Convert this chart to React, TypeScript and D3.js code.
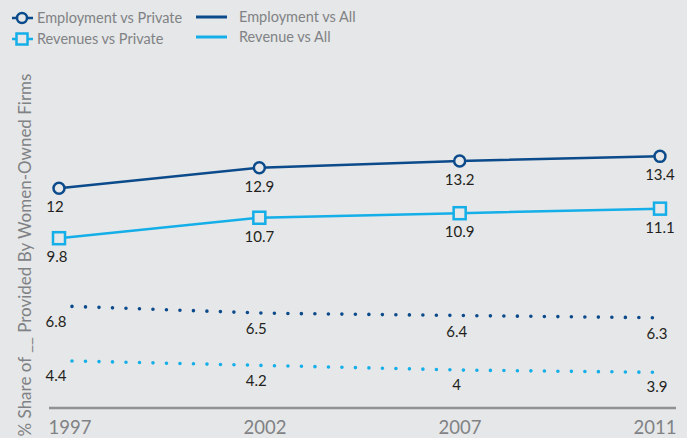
import React from "react";
import * as d3 from "d3";

const years = ["1997", "2002", "2007", "2011"];
const employmentVsPrivate = [12, 12.9, 13.2, 13.4];
const revenuesVsPrivate = [9.8, 10.7, 10.9, 11.1];
const employmentVsAll = [6.8, 6.5, 6.4, 6.3];
const revenueVsAll = [4.4, 4.2, 4, 3.9];
const labelEmpPriv = ["12", "12.9", "13.2", "13.4"];
const labelRevPriv = ["9.8", "10.7", "10.9", "11.1"];
const labelEmpAll = ["6.8", "6.5", "6.4", "6.3"];
const labelRevAll = ["4.4", "4.2", "4", "3.9"];
const legendPrivate = ["Employment vs Private", "Revenues vs Private"];
const legendAll = ["Employment vs All", "Revenue vs All"];
const yTitle = "% Share of __ Provided By Women-Owned Firms";

const W = 687;
const H = 438;
const DARK = "#0b4a8b";
const LIGHT = "#14aee8";
const BG = "#e6e7e8";
const GRAY = "#808285";
const INK = "#231f20";
const FONT = "Lato, 'Open Sans', sans-serif";

export default function App() {
  const xMain = d3.scalePoint<string>().domain(years).range([59, 660]);
  const xDots = d3.scalePoint<string>().domain(years).range([72, 657]);
  const y = d3.scaleLinear().domain([0, 15]).range([461, 120]);

  const lineMain = d3
    .line<number>()
    .x((_, i) => xMain(years[i]) as number)
    .y((d) => y(d));
  const lineDots = d3
    .line<number>()
    .x((_, i) => xDots(years[i]) as number)
    .y((d) => y(d));

  const sq = 12;

  return (
    <svg
      width={W}
      height={H}
      style={{ position: "absolute", left: 0, top: 0, display: "block" }}
      fontFamily={FONT}
    >
      <rect x={0} y={0} width={W} height={H} fill={BG} />

      {/* Legend */}
      <g fontSize={14.5} fill={GRAY}>
        <line x1={12} x2={33} y1={18} y2={18} stroke={DARK} strokeWidth={2.5} />
        <circle cx={22} cy={18} r={5} fill={BG} stroke={DARK} strokeWidth={2.5} />
        <text x={37} y={23}>{legendPrivate[0]}</text>
        <line x1={12} x2={33} y1={39} y2={39} stroke={LIGHT} strokeWidth={2.5} />
        <rect x={22 - 5.5} y={39 - 5.5} width={11} height={11} fill={BG} stroke={LIGHT} strokeWidth={2.5} />
        <text x={37} y={44}>{legendPrivate[1]}</text>
        <line x1={196} x2={227} y1={17} y2={17} stroke={DARK} strokeWidth={3} />
        <text x={239} y={22}>{legendAll[0]}</text>
        <line x1={196} x2={227} y1={37} y2={37} stroke={LIGHT} strokeWidth={3} />
        <text x={239} y={42}>{legendAll[1]}</text>
      </g>

      {/* Y title */}
      <text
        transform={`translate(31,255) rotate(-90)`}
        textAnchor="middle"
        fontSize={17}
        fill={GRAY}
      >
        {yTitle}
      </text>

      {/* X axis */}
      <line x1={49} x2={676} y1={408} y2={408} stroke="#8f9194" strokeWidth={2.6} />
      <g fontSize={18.5} fill={GRAY} textAnchor="middle">
        {years.map((yr) => (
          <text key={yr} x={(xDots(yr) as number) - 2} y={434}>
            {yr}
          </text>
        ))}
      </g>

      {/* Dotted lines (vs All) */}
      <path
        d={lineDots(employmentVsAll) || ""}
        fill="none"
        stroke={DARK}
        strokeWidth={3.6}
        strokeLinecap="round"
        strokeDasharray="0 13.5"
      />
      <path
        d={lineDots(revenueVsAll) || ""}
        fill="none"
        stroke={LIGHT}
        strokeWidth={3.6}
        strokeLinecap="round"
        strokeDasharray="0 13.5"
      />

      {/* Solid lines (vs Private) */}
      <path d={lineMain(employmentVsPrivate) || ""} fill="none" stroke={DARK} strokeWidth={2.5} />
      <path d={lineMain(revenuesVsPrivate) || ""} fill="none" stroke={LIGHT} strokeWidth={2.5} />

      {employmentVsPrivate.map((v, i) => (
        <circle
          key={"c" + i}
          cx={xMain(years[i]) as number}
          cy={y(v)}
          r={5.5}
          fill={BG}
          stroke={DARK}
          strokeWidth={2.5}
        />
      ))}
      {revenuesVsPrivate.map((v, i) => (
        <rect
          key={"s" + i}
          x={(xMain(years[i]) as number) - sq / 2}
          y={y(v) - sq / 2}
          width={sq}
          height={sq}
          fill={BG}
          stroke={LIGHT}
          strokeWidth={2.5}
        />
      ))}

      {/* Data labels */}
      <g fontSize={15} fill={INK} textAnchor="middle">
        {employmentVsPrivate.map((v, i) => (
          <text key={"le" + i} x={(xMain(years[i]) as number) - (i === 0 ? 4 : 0)} y={y(v) + 24}>
            {labelEmpPriv[i]}
          </text>
        ))}
        {revenuesVsPrivate.map((v, i) => (
          <text key={"lr" + i} x={(xMain(years[i]) as number) - (i === 0 ? 2 : 0)} y={y(v) + 24}>
            {labelRevPriv[i]}
          </text>
        ))}
        {employmentVsAll.map((v, i) => (
          <text key={"la" + i} x={(xMain(years[i]) as number) - 3} y={y(v) + 21}>
            {labelEmpAll[i]}
          </text>
        ))}
        {revenueVsAll.map((v, i) => (
          <text key={"lv" + i} x={(xMain(years[i]) as number) - 3} y={y(v) + 20}>
            {labelRevAll[i]}
          </text>
        ))}
      </g>
    </svg>
  );
}
